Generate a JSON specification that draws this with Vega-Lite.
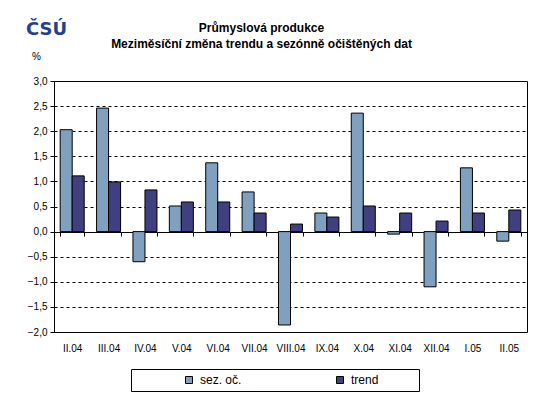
{
  "$schema": "https://vega.github.io/schema/vega-lite/v6.json",
  "width": 473,
  "height": 251,
  "autosize": {"type": "none"},
  "padding": {"left": 54, "top": 81, "right": 28, "bottom": 67},
  "background": "white",
  "title": {
    "text": ["Průmyslová produkce", "Meziměsíční změna trendu a sezónně očištěných dat"],
    "font": "Liberation Sans",
    "fontSize": 12,
    "fontWeight": "bold",
    "color": "black",
    "anchor": "middle",
    "dx": -29,
    "offset": -31,
    "lineHeight": 16
  },
  "data": {
    "values": [
      {"month": "II.04", "series": "sez. oč.", "value": 2.03},
      {"month": "II.04", "series": "trend", "value": 1.11},
      {"month": "III.04", "series": "sez. oč.", "value": 2.46},
      {"month": "III.04", "series": "trend", "value": 0.99},
      {"month": "IV.04", "series": "sez. oč.", "value": -0.6},
      {"month": "IV.04", "series": "trend", "value": 0.83},
      {"month": "V.04", "series": "sez. oč.", "value": 0.51},
      {"month": "V.04", "series": "trend", "value": 0.59},
      {"month": "VI.04", "series": "sez. oč.", "value": 1.37},
      {"month": "VI.04", "series": "trend", "value": 0.59},
      {"month": "VII.04", "series": "sez. oč.", "value": 0.79},
      {"month": "VII.04", "series": "trend", "value": 0.37},
      {"month": "VIII.04", "series": "sez. oč.", "value": -1.86},
      {"month": "VIII.04", "series": "trend", "value": 0.15},
      {"month": "IX.04", "series": "sez. oč.", "value": 0.37},
      {"month": "IX.04", "series": "trend", "value": 0.29},
      {"month": "X.04", "series": "sez. oč.", "value": 2.36},
      {"month": "X.04", "series": "trend", "value": 0.51},
      {"month": "XI.04", "series": "sez. oč.", "value": -0.05},
      {"month": "XI.04", "series": "trend", "value": 0.37},
      {"month": "XII.04", "series": "sez. oč.", "value": -1.1},
      {"month": "XII.04", "series": "trend", "value": 0.21},
      {"month": "I.05", "series": "sez. oč.", "value": 1.27},
      {"month": "I.05", "series": "trend", "value": 0.37},
      {"month": "II.05", "series": "sez. oč.", "value": -0.19},
      {"month": "II.05", "series": "trend", "value": 0.43}
    ]
  },
  "mark": {"type": "bar", "stroke": "black", "strokeWidth": 1},
  "encoding": {
    "x": {
      "field": "month",
      "type": "nominal",
      "sort": ["II.04", "III.04", "IV.04", "V.04", "VI.04", "VII.04", "VIII.04", "IX.04", "X.04", "XI.04", "XII.04", "I.05", "II.05"],
      "scale": {"paddingInner": 0.34, "paddingOuter": 0.17},
      "axis": {
        "orient": "bottom",
        "offset": -100,
        "domainColor": "black",
        "domainWidth": 1,
        "tickColor": "black",
        "tickBand": "extent",
        "tickSize": 4,
        "labelPadding": 107,
        "labelAngle": 0,
        "labelFont": "Liberation Sans",
        "labelFontSize": 10,
        "labelColor": "black",
        "title": "ČSÚ",
        "titleFont": "DejaVu Sans",
        "titleFontSize": 18,
        "titleFontWeight": "bold",
        "titleColor": "#23408e",
        "titleAlign": "center",
        "titleBaseline": "alphabetic",
        "titleX": -8,
        "titleY": -198
      }
    },
    "xOffset": {"field": "series", "type": "nominal", "sort": ["sez. oč.", "trend"]},
    "y": {
      "field": "value",
      "type": "quantitative",
      "scale": {"domain": [-2, 3], "nice": false, "zero": false},
      "axis": {
        "values": [-2, -1.5, -1, -0.5, 0, 0.5, 1, 1.5, 2, 2.5, 3],
        "labelExpr": "replace(format(datum.value, '.1f'), '.', ',')",
        "grid": true,
        "gridColor": "black",
        "gridDash": [3, 3],
        "gridWidth": 1,
        "domainColor": "black",
        "tickColor": "black",
        "tickSize": 4,
        "labelPadding": 3,
        "labelFont": "Liberation Sans",
        "labelFontSize": 10,
        "labelColor": "black",
        "title": "%",
        "titleFont": "Liberation Sans",
        "titleFontSize": 10,
        "titleFontWeight": "normal",
        "titleColor": "black",
        "titleAngle": 0,
        "titleAlign": "center",
        "titleBaseline": "middle",
        "titleX": -18,
        "titleY": -25
      }
    },
    "color": {
      "field": "series",
      "type": "nominal",
      "scale": {"domain": ["sez. oč.", "trend"], "range": ["#80a0c0", "#404080"]},
      "legend": {
        "orient": "none",
        "legendX": 77,
        "legendY": 288,
        "direction": "horizontal",
        "title": " ",
        "titleOrient": "right",
        "titlePadding": 36,
        "strokeColor": "black",
        "fillColor": "white",
        "padding": 5,
        "symbolType": "square",
        "symbolSize": 49,
        "symbolStrokeColor": "black",
        "symbolStrokeWidth": 1,
        "symbolOpacity": 1,
        "symbolOffset": 47,
        "labelOffset": 5,
        "labelFont": "Liberation Sans",
        "labelFontSize": 12,
        "labelColor": "black",
        "columnPadding": 45
      }
    }
  },
  "config": {
    "view": {"stroke": "black", "strokeWidth": 1},
    "font": "Liberation Sans"
  }
}
